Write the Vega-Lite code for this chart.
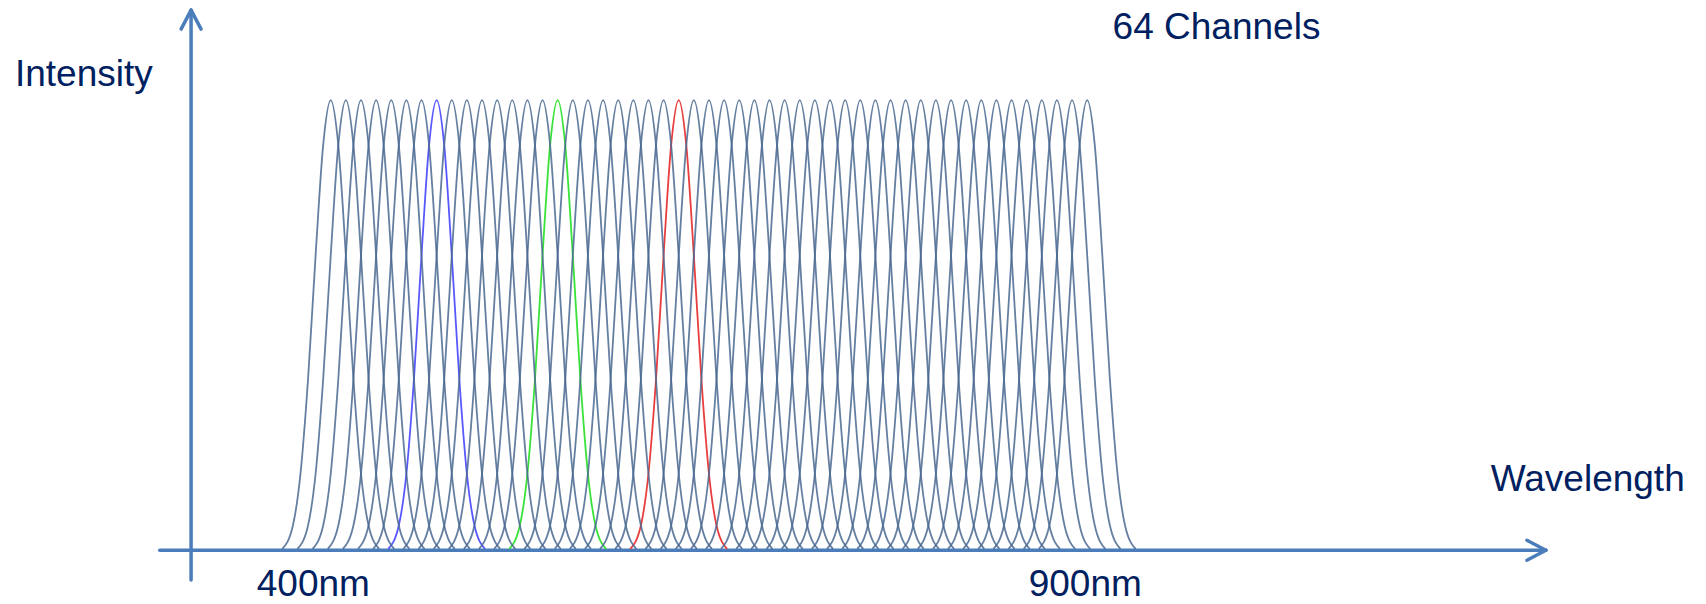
{
"$schema": "https://vega.github.io/schema/vega-lite/v6.json",
"width": 1706, "height": 604,
"autosize": {"type": "fit", "contains": "padding"},
"padding": 0,
"background": "white",
"config": {"view": {"stroke": null}},
"datasets": {
"curves": [
{"c":400,"w":368,"v":0.003},{"c":400,"w":375,"v":0.055},{"c":400,"w":380,"v":0.17},{"c":400,"w":385,"v":0.38},{"c":400,"w":390,"v":0.655},{"c":400,"w":395,"v":0.9},{"c":400,"w":400,"v":1},{"c":400,"w":405,"v":0.9},{"c":400,"w":410,"v":0.655},{"c":400,"w":415,"v":0.38},{"c":400,"w":420,"v":0.17},{"c":400,"w":425,"v":0.055},{"c":400,"w":432,"v":0.003},
{"c":410,"w":378,"v":0.003},{"c":410,"w":385,"v":0.055},{"c":410,"w":390,"v":0.17},{"c":410,"w":395,"v":0.38},{"c":410,"w":400,"v":0.655},{"c":410,"w":405,"v":0.9},{"c":410,"w":410,"v":1},{"c":410,"w":415,"v":0.9},{"c":410,"w":420,"v":0.655},{"c":410,"w":425,"v":0.38},{"c":410,"w":430,"v":0.17},{"c":410,"w":435,"v":0.055},{"c":410,"w":442,"v":0.003},
{"c":420,"w":388,"v":0.003},{"c":420,"w":395,"v":0.055},{"c":420,"w":400,"v":0.17},{"c":420,"w":405,"v":0.38},{"c":420,"w":410,"v":0.655},{"c":420,"w":415,"v":0.9},{"c":420,"w":420,"v":1},{"c":420,"w":425,"v":0.9},{"c":420,"w":430,"v":0.655},{"c":420,"w":435,"v":0.38},{"c":420,"w":440,"v":0.17},{"c":420,"w":445,"v":0.055},{"c":420,"w":452,"v":0.003},
{"c":430,"w":398,"v":0.003},{"c":430,"w":405,"v":0.055},{"c":430,"w":410,"v":0.17},{"c":430,"w":415,"v":0.38},{"c":430,"w":420,"v":0.655},{"c":430,"w":425,"v":0.9},{"c":430,"w":430,"v":1},{"c":430,"w":435,"v":0.9},{"c":430,"w":440,"v":0.655},{"c":430,"w":445,"v":0.38},{"c":430,"w":450,"v":0.17},{"c":430,"w":455,"v":0.055},{"c":430,"w":462,"v":0.003},
{"c":440,"w":408,"v":0.003},{"c":440,"w":415,"v":0.055},{"c":440,"w":420,"v":0.17},{"c":440,"w":425,"v":0.38},{"c":440,"w":430,"v":0.655},{"c":440,"w":435,"v":0.9},{"c":440,"w":440,"v":1},{"c":440,"w":445,"v":0.9},{"c":440,"w":450,"v":0.655},{"c":440,"w":455,"v":0.38},{"c":440,"w":460,"v":0.17},{"c":440,"w":465,"v":0.055},{"c":440,"w":472,"v":0.003},
{"c":450,"w":418,"v":0.003},{"c":450,"w":425,"v":0.055},{"c":450,"w":430,"v":0.17},{"c":450,"w":435,"v":0.38},{"c":450,"w":440,"v":0.655},{"c":450,"w":445,"v":0.9},{"c":450,"w":450,"v":1},{"c":450,"w":455,"v":0.9},{"c":450,"w":460,"v":0.655},{"c":450,"w":465,"v":0.38},{"c":450,"w":470,"v":0.17},{"c":450,"w":475,"v":0.055},{"c":450,"w":482,"v":0.003},
{"c":460,"w":428,"v":0.003},{"c":460,"w":435,"v":0.055},{"c":460,"w":440,"v":0.17},{"c":460,"w":445,"v":0.38},{"c":460,"w":450,"v":0.655},{"c":460,"w":455,"v":0.9},{"c":460,"w":460,"v":1},{"c":460,"w":465,"v":0.9},{"c":460,"w":470,"v":0.655},{"c":460,"w":475,"v":0.38},{"c":460,"w":480,"v":0.17},{"c":460,"w":485,"v":0.055},{"c":460,"w":492,"v":0.003},
{"c":470,"w":438,"v":0.003},{"c":470,"w":445,"v":0.055},{"c":470,"w":450,"v":0.17},{"c":470,"w":455,"v":0.38},{"c":470,"w":460,"v":0.655},{"c":470,"w":465,"v":0.9},{"c":470,"w":470,"v":1},{"c":470,"w":475,"v":0.9},{"c":470,"w":480,"v":0.655},{"c":470,"w":485,"v":0.38},{"c":470,"w":490,"v":0.17},{"c":470,"w":495,"v":0.055},{"c":470,"w":502,"v":0.003},
{"c":480,"w":448,"v":0.003},{"c":480,"w":455,"v":0.055},{"c":480,"w":460,"v":0.17},{"c":480,"w":465,"v":0.38},{"c":480,"w":470,"v":0.655},{"c":480,"w":475,"v":0.9},{"c":480,"w":480,"v":1},{"c":480,"w":485,"v":0.9},{"c":480,"w":490,"v":0.655},{"c":480,"w":495,"v":0.38},{"c":480,"w":500,"v":0.17},{"c":480,"w":505,"v":0.055},{"c":480,"w":512,"v":0.003},
{"c":490,"w":458,"v":0.003},{"c":490,"w":465,"v":0.055},{"c":490,"w":470,"v":0.17},{"c":490,"w":475,"v":0.38},{"c":490,"w":480,"v":0.655},{"c":490,"w":485,"v":0.9},{"c":490,"w":490,"v":1},{"c":490,"w":495,"v":0.9},{"c":490,"w":500,"v":0.655},{"c":490,"w":505,"v":0.38},{"c":490,"w":510,"v":0.17},{"c":490,"w":515,"v":0.055},{"c":490,"w":522,"v":0.003},
{"c":500,"w":468,"v":0.003},{"c":500,"w":475,"v":0.055},{"c":500,"w":480,"v":0.17},{"c":500,"w":485,"v":0.38},{"c":500,"w":490,"v":0.655},{"c":500,"w":495,"v":0.9},{"c":500,"w":500,"v":1},{"c":500,"w":505,"v":0.9},{"c":500,"w":510,"v":0.655},{"c":500,"w":515,"v":0.38},{"c":500,"w":520,"v":0.17},{"c":500,"w":525,"v":0.055},{"c":500,"w":532,"v":0.003},
{"c":510,"w":478,"v":0.003},{"c":510,"w":485,"v":0.055},{"c":510,"w":490,"v":0.17},{"c":510,"w":495,"v":0.38},{"c":510,"w":500,"v":0.655},{"c":510,"w":505,"v":0.9},{"c":510,"w":510,"v":1},{"c":510,"w":515,"v":0.9},{"c":510,"w":520,"v":0.655},{"c":510,"w":525,"v":0.38},{"c":510,"w":530,"v":0.17},{"c":510,"w":535,"v":0.055},{"c":510,"w":542,"v":0.003},
{"c":520,"w":488,"v":0.003},{"c":520,"w":495,"v":0.055},{"c":520,"w":500,"v":0.17},{"c":520,"w":505,"v":0.38},{"c":520,"w":510,"v":0.655},{"c":520,"w":515,"v":0.9},{"c":520,"w":520,"v":1},{"c":520,"w":525,"v":0.9},{"c":520,"w":530,"v":0.655},{"c":520,"w":535,"v":0.38},{"c":520,"w":540,"v":0.17},{"c":520,"w":545,"v":0.055},{"c":520,"w":552,"v":0.003},
{"c":530,"w":498,"v":0.003},{"c":530,"w":505,"v":0.055},{"c":530,"w":510,"v":0.17},{"c":530,"w":515,"v":0.38},{"c":530,"w":520,"v":0.655},{"c":530,"w":525,"v":0.9},{"c":530,"w":530,"v":1},{"c":530,"w":535,"v":0.9},{"c":530,"w":540,"v":0.655},{"c":530,"w":545,"v":0.38},{"c":530,"w":550,"v":0.17},{"c":530,"w":555,"v":0.055},{"c":530,"w":562,"v":0.003},
{"c":540,"w":508,"v":0.003},{"c":540,"w":515,"v":0.055},{"c":540,"w":520,"v":0.17},{"c":540,"w":525,"v":0.38},{"c":540,"w":530,"v":0.655},{"c":540,"w":535,"v":0.9},{"c":540,"w":540,"v":1},{"c":540,"w":545,"v":0.9},{"c":540,"w":550,"v":0.655},{"c":540,"w":555,"v":0.38},{"c":540,"w":560,"v":0.17},{"c":540,"w":565,"v":0.055},{"c":540,"w":572,"v":0.003},
{"c":550,"w":518,"v":0.003},{"c":550,"w":525,"v":0.055},{"c":550,"w":530,"v":0.17},{"c":550,"w":535,"v":0.38},{"c":550,"w":540,"v":0.655},{"c":550,"w":545,"v":0.9},{"c":550,"w":550,"v":1},{"c":550,"w":555,"v":0.9},{"c":550,"w":560,"v":0.655},{"c":550,"w":565,"v":0.38},{"c":550,"w":570,"v":0.17},{"c":550,"w":575,"v":0.055},{"c":550,"w":582,"v":0.003},
{"c":560,"w":528,"v":0.003},{"c":560,"w":535,"v":0.055},{"c":560,"w":540,"v":0.17},{"c":560,"w":545,"v":0.38},{"c":560,"w":550,"v":0.655},{"c":560,"w":555,"v":0.9},{"c":560,"w":560,"v":1},{"c":560,"w":565,"v":0.9},{"c":560,"w":570,"v":0.655},{"c":560,"w":575,"v":0.38},{"c":560,"w":580,"v":0.17},{"c":560,"w":585,"v":0.055},{"c":560,"w":592,"v":0.003},
{"c":570,"w":538,"v":0.003},{"c":570,"w":545,"v":0.055},{"c":570,"w":550,"v":0.17},{"c":570,"w":555,"v":0.38},{"c":570,"w":560,"v":0.655},{"c":570,"w":565,"v":0.9},{"c":570,"w":570,"v":1},{"c":570,"w":575,"v":0.9},{"c":570,"w":580,"v":0.655},{"c":570,"w":585,"v":0.38},{"c":570,"w":590,"v":0.17},{"c":570,"w":595,"v":0.055},{"c":570,"w":602,"v":0.003},
{"c":580,"w":548,"v":0.003},{"c":580,"w":555,"v":0.055},{"c":580,"w":560,"v":0.17},{"c":580,"w":565,"v":0.38},{"c":580,"w":570,"v":0.655},{"c":580,"w":575,"v":0.9},{"c":580,"w":580,"v":1},{"c":580,"w":585,"v":0.9},{"c":580,"w":590,"v":0.655},{"c":580,"w":595,"v":0.38},{"c":580,"w":600,"v":0.17},{"c":580,"w":605,"v":0.055},{"c":580,"w":612,"v":0.003},
{"c":590,"w":558,"v":0.003},{"c":590,"w":565,"v":0.055},{"c":590,"w":570,"v":0.17},{"c":590,"w":575,"v":0.38},{"c":590,"w":580,"v":0.655},{"c":590,"w":585,"v":0.9},{"c":590,"w":590,"v":1},{"c":590,"w":595,"v":0.9},{"c":590,"w":600,"v":0.655},{"c":590,"w":605,"v":0.38},{"c":590,"w":610,"v":0.17},{"c":590,"w":615,"v":0.055},{"c":590,"w":622,"v":0.003},
{"c":600,"w":568,"v":0.003},{"c":600,"w":575,"v":0.055},{"c":600,"w":580,"v":0.17},{"c":600,"w":585,"v":0.38},{"c":600,"w":590,"v":0.655},{"c":600,"w":595,"v":0.9},{"c":600,"w":600,"v":1},{"c":600,"w":605,"v":0.9},{"c":600,"w":610,"v":0.655},{"c":600,"w":615,"v":0.38},{"c":600,"w":620,"v":0.17},{"c":600,"w":625,"v":0.055},{"c":600,"w":632,"v":0.003},
{"c":610,"w":578,"v":0.003},{"c":610,"w":585,"v":0.055},{"c":610,"w":590,"v":0.17},{"c":610,"w":595,"v":0.38},{"c":610,"w":600,"v":0.655},{"c":610,"w":605,"v":0.9},{"c":610,"w":610,"v":1},{"c":610,"w":615,"v":0.9},{"c":610,"w":620,"v":0.655},{"c":610,"w":625,"v":0.38},{"c":610,"w":630,"v":0.17},{"c":610,"w":635,"v":0.055},{"c":610,"w":642,"v":0.003},
{"c":620,"w":588,"v":0.003},{"c":620,"w":595,"v":0.055},{"c":620,"w":600,"v":0.17},{"c":620,"w":605,"v":0.38},{"c":620,"w":610,"v":0.655},{"c":620,"w":615,"v":0.9},{"c":620,"w":620,"v":1},{"c":620,"w":625,"v":0.9},{"c":620,"w":630,"v":0.655},{"c":620,"w":635,"v":0.38},{"c":620,"w":640,"v":0.17},{"c":620,"w":645,"v":0.055},{"c":620,"w":652,"v":0.003},
{"c":630,"w":598,"v":0.003},{"c":630,"w":605,"v":0.055},{"c":630,"w":610,"v":0.17},{"c":630,"w":615,"v":0.38},{"c":630,"w":620,"v":0.655},{"c":630,"w":625,"v":0.9},{"c":630,"w":630,"v":1},{"c":630,"w":635,"v":0.9},{"c":630,"w":640,"v":0.655},{"c":630,"w":645,"v":0.38},{"c":630,"w":650,"v":0.17},{"c":630,"w":655,"v":0.055},{"c":630,"w":662,"v":0.003},
{"c":640,"w":608,"v":0.003},{"c":640,"w":615,"v":0.055},{"c":640,"w":620,"v":0.17},{"c":640,"w":625,"v":0.38},{"c":640,"w":630,"v":0.655},{"c":640,"w":635,"v":0.9},{"c":640,"w":640,"v":1},{"c":640,"w":645,"v":0.9},{"c":640,"w":650,"v":0.655},{"c":640,"w":655,"v":0.38},{"c":640,"w":660,"v":0.17},{"c":640,"w":665,"v":0.055},{"c":640,"w":672,"v":0.003},
{"c":650,"w":618,"v":0.003},{"c":650,"w":625,"v":0.055},{"c":650,"w":630,"v":0.17},{"c":650,"w":635,"v":0.38},{"c":650,"w":640,"v":0.655},{"c":650,"w":645,"v":0.9},{"c":650,"w":650,"v":1},{"c":650,"w":655,"v":0.9},{"c":650,"w":660,"v":0.655},{"c":650,"w":665,"v":0.38},{"c":650,"w":670,"v":0.17},{"c":650,"w":675,"v":0.055},{"c":650,"w":682,"v":0.003},
{"c":660,"w":628,"v":0.003},{"c":660,"w":635,"v":0.055},{"c":660,"w":640,"v":0.17},{"c":660,"w":645,"v":0.38},{"c":660,"w":650,"v":0.655},{"c":660,"w":655,"v":0.9},{"c":660,"w":660,"v":1},{"c":660,"w":665,"v":0.9},{"c":660,"w":670,"v":0.655},{"c":660,"w":675,"v":0.38},{"c":660,"w":680,"v":0.17},{"c":660,"w":685,"v":0.055},{"c":660,"w":692,"v":0.003},
{"c":670,"w":638,"v":0.003},{"c":670,"w":645,"v":0.055},{"c":670,"w":650,"v":0.17},{"c":670,"w":655,"v":0.38},{"c":670,"w":660,"v":0.655},{"c":670,"w":665,"v":0.9},{"c":670,"w":670,"v":1},{"c":670,"w":675,"v":0.9},{"c":670,"w":680,"v":0.655},{"c":670,"w":685,"v":0.38},{"c":670,"w":690,"v":0.17},{"c":670,"w":695,"v":0.055},{"c":670,"w":702,"v":0.003},
{"c":680,"w":648,"v":0.003},{"c":680,"w":655,"v":0.055},{"c":680,"w":660,"v":0.17},{"c":680,"w":665,"v":0.38},{"c":680,"w":670,"v":0.655},{"c":680,"w":675,"v":0.9},{"c":680,"w":680,"v":1},{"c":680,"w":685,"v":0.9},{"c":680,"w":690,"v":0.655},{"c":680,"w":695,"v":0.38},{"c":680,"w":700,"v":0.17},{"c":680,"w":705,"v":0.055},{"c":680,"w":712,"v":0.003},
{"c":690,"w":658,"v":0.003},{"c":690,"w":665,"v":0.055},{"c":690,"w":670,"v":0.17},{"c":690,"w":675,"v":0.38},{"c":690,"w":680,"v":0.655},{"c":690,"w":685,"v":0.9},{"c":690,"w":690,"v":1},{"c":690,"w":695,"v":0.9},{"c":690,"w":700,"v":0.655},{"c":690,"w":705,"v":0.38},{"c":690,"w":710,"v":0.17},{"c":690,"w":715,"v":0.055},{"c":690,"w":722,"v":0.003},
{"c":700,"w":668,"v":0.003},{"c":700,"w":675,"v":0.055},{"c":700,"w":680,"v":0.17},{"c":700,"w":685,"v":0.38},{"c":700,"w":690,"v":0.655},{"c":700,"w":695,"v":0.9},{"c":700,"w":700,"v":1},{"c":700,"w":705,"v":0.9},{"c":700,"w":710,"v":0.655},{"c":700,"w":715,"v":0.38},{"c":700,"w":720,"v":0.17},{"c":700,"w":725,"v":0.055},{"c":700,"w":732,"v":0.003},
{"c":710,"w":678,"v":0.003},{"c":710,"w":685,"v":0.055},{"c":710,"w":690,"v":0.17},{"c":710,"w":695,"v":0.38},{"c":710,"w":700,"v":0.655},{"c":710,"w":705,"v":0.9},{"c":710,"w":710,"v":1},{"c":710,"w":715,"v":0.9},{"c":710,"w":720,"v":0.655},{"c":710,"w":725,"v":0.38},{"c":710,"w":730,"v":0.17},{"c":710,"w":735,"v":0.055},{"c":710,"w":742,"v":0.003},
{"c":720,"w":688,"v":0.003},{"c":720,"w":695,"v":0.055},{"c":720,"w":700,"v":0.17},{"c":720,"w":705,"v":0.38},{"c":720,"w":710,"v":0.655},{"c":720,"w":715,"v":0.9},{"c":720,"w":720,"v":1},{"c":720,"w":725,"v":0.9},{"c":720,"w":730,"v":0.655},{"c":720,"w":735,"v":0.38},{"c":720,"w":740,"v":0.17},{"c":720,"w":745,"v":0.055},{"c":720,"w":752,"v":0.003},
{"c":730,"w":698,"v":0.003},{"c":730,"w":705,"v":0.055},{"c":730,"w":710,"v":0.17},{"c":730,"w":715,"v":0.38},{"c":730,"w":720,"v":0.655},{"c":730,"w":725,"v":0.9},{"c":730,"w":730,"v":1},{"c":730,"w":735,"v":0.9},{"c":730,"w":740,"v":0.655},{"c":730,"w":745,"v":0.38},{"c":730,"w":750,"v":0.17},{"c":730,"w":755,"v":0.055},{"c":730,"w":762,"v":0.003},
{"c":740,"w":708,"v":0.003},{"c":740,"w":715,"v":0.055},{"c":740,"w":720,"v":0.17},{"c":740,"w":725,"v":0.38},{"c":740,"w":730,"v":0.655},{"c":740,"w":735,"v":0.9},{"c":740,"w":740,"v":1},{"c":740,"w":745,"v":0.9},{"c":740,"w":750,"v":0.655},{"c":740,"w":755,"v":0.38},{"c":740,"w":760,"v":0.17},{"c":740,"w":765,"v":0.055},{"c":740,"w":772,"v":0.003},
{"c":750,"w":718,"v":0.003},{"c":750,"w":725,"v":0.055},{"c":750,"w":730,"v":0.17},{"c":750,"w":735,"v":0.38},{"c":750,"w":740,"v":0.655},{"c":750,"w":745,"v":0.9},{"c":750,"w":750,"v":1},{"c":750,"w":755,"v":0.9},{"c":750,"w":760,"v":0.655},{"c":750,"w":765,"v":0.38},{"c":750,"w":770,"v":0.17},{"c":750,"w":775,"v":0.055},{"c":750,"w":782,"v":0.003},
{"c":760,"w":728,"v":0.003},{"c":760,"w":735,"v":0.055},{"c":760,"w":740,"v":0.17},{"c":760,"w":745,"v":0.38},{"c":760,"w":750,"v":0.655},{"c":760,"w":755,"v":0.9},{"c":760,"w":760,"v":1},{"c":760,"w":765,"v":0.9},{"c":760,"w":770,"v":0.655},{"c":760,"w":775,"v":0.38},{"c":760,"w":780,"v":0.17},{"c":760,"w":785,"v":0.055},{"c":760,"w":792,"v":0.003},
{"c":770,"w":738,"v":0.003},{"c":770,"w":745,"v":0.055},{"c":770,"w":750,"v":0.17},{"c":770,"w":755,"v":0.38},{"c":770,"w":760,"v":0.655},{"c":770,"w":765,"v":0.9},{"c":770,"w":770,"v":1},{"c":770,"w":775,"v":0.9},{"c":770,"w":780,"v":0.655},{"c":770,"w":785,"v":0.38},{"c":770,"w":790,"v":0.17},{"c":770,"w":795,"v":0.055},{"c":770,"w":802,"v":0.003},
{"c":780,"w":748,"v":0.003},{"c":780,"w":755,"v":0.055},{"c":780,"w":760,"v":0.17},{"c":780,"w":765,"v":0.38},{"c":780,"w":770,"v":0.655},{"c":780,"w":775,"v":0.9},{"c":780,"w":780,"v":1},{"c":780,"w":785,"v":0.9},{"c":780,"w":790,"v":0.655},{"c":780,"w":795,"v":0.38},{"c":780,"w":800,"v":0.17},{"c":780,"w":805,"v":0.055},{"c":780,"w":812,"v":0.003},
{"c":790,"w":758,"v":0.003},{"c":790,"w":765,"v":0.055},{"c":790,"w":770,"v":0.17},{"c":790,"w":775,"v":0.38},{"c":790,"w":780,"v":0.655},{"c":790,"w":785,"v":0.9},{"c":790,"w":790,"v":1},{"c":790,"w":795,"v":0.9},{"c":790,"w":800,"v":0.655},{"c":790,"w":805,"v":0.38},{"c":790,"w":810,"v":0.17},{"c":790,"w":815,"v":0.055},{"c":790,"w":822,"v":0.003},
{"c":800,"w":768,"v":0.003},{"c":800,"w":775,"v":0.055},{"c":800,"w":780,"v":0.17},{"c":800,"w":785,"v":0.38},{"c":800,"w":790,"v":0.655},{"c":800,"w":795,"v":0.9},{"c":800,"w":800,"v":1},{"c":800,"w":805,"v":0.9},{"c":800,"w":810,"v":0.655},{"c":800,"w":815,"v":0.38},{"c":800,"w":820,"v":0.17},{"c":800,"w":825,"v":0.055},{"c":800,"w":832,"v":0.003},
{"c":810,"w":778,"v":0.003},{"c":810,"w":785,"v":0.055},{"c":810,"w":790,"v":0.17},{"c":810,"w":795,"v":0.38},{"c":810,"w":800,"v":0.655},{"c":810,"w":805,"v":0.9},{"c":810,"w":810,"v":1},{"c":810,"w":815,"v":0.9},{"c":810,"w":820,"v":0.655},{"c":810,"w":825,"v":0.38},{"c":810,"w":830,"v":0.17},{"c":810,"w":835,"v":0.055},{"c":810,"w":842,"v":0.003},
{"c":820,"w":788,"v":0.003},{"c":820,"w":795,"v":0.055},{"c":820,"w":800,"v":0.17},{"c":820,"w":805,"v":0.38},{"c":820,"w":810,"v":0.655},{"c":820,"w":815,"v":0.9},{"c":820,"w":820,"v":1},{"c":820,"w":825,"v":0.9},{"c":820,"w":830,"v":0.655},{"c":820,"w":835,"v":0.38},{"c":820,"w":840,"v":0.17},{"c":820,"w":845,"v":0.055},{"c":820,"w":852,"v":0.003},
{"c":830,"w":798,"v":0.003},{"c":830,"w":805,"v":0.055},{"c":830,"w":810,"v":0.17},{"c":830,"w":815,"v":0.38},{"c":830,"w":820,"v":0.655},{"c":830,"w":825,"v":0.9},{"c":830,"w":830,"v":1},{"c":830,"w":835,"v":0.9},{"c":830,"w":840,"v":0.655},{"c":830,"w":845,"v":0.38},{"c":830,"w":850,"v":0.17},{"c":830,"w":855,"v":0.055},{"c":830,"w":862,"v":0.003},
{"c":840,"w":808,"v":0.003},{"c":840,"w":815,"v":0.055},{"c":840,"w":820,"v":0.17},{"c":840,"w":825,"v":0.38},{"c":840,"w":830,"v":0.655},{"c":840,"w":835,"v":0.9},{"c":840,"w":840,"v":1},{"c":840,"w":845,"v":0.9},{"c":840,"w":850,"v":0.655},{"c":840,"w":855,"v":0.38},{"c":840,"w":860,"v":0.17},{"c":840,"w":865,"v":0.055},{"c":840,"w":872,"v":0.003},
{"c":850,"w":818,"v":0.003},{"c":850,"w":825,"v":0.055},{"c":850,"w":830,"v":0.17},{"c":850,"w":835,"v":0.38},{"c":850,"w":840,"v":0.655},{"c":850,"w":845,"v":0.9},{"c":850,"w":850,"v":1},{"c":850,"w":855,"v":0.9},{"c":850,"w":860,"v":0.655},{"c":850,"w":865,"v":0.38},{"c":850,"w":870,"v":0.17},{"c":850,"w":875,"v":0.055},{"c":850,"w":882,"v":0.003},
{"c":860,"w":828,"v":0.003},{"c":860,"w":835,"v":0.055},{"c":860,"w":840,"v":0.17},{"c":860,"w":845,"v":0.38},{"c":860,"w":850,"v":0.655},{"c":860,"w":855,"v":0.9},{"c":860,"w":860,"v":1},{"c":860,"w":865,"v":0.9},{"c":860,"w":870,"v":0.655},{"c":860,"w":875,"v":0.38},{"c":860,"w":880,"v":0.17},{"c":860,"w":885,"v":0.055},{"c":860,"w":892,"v":0.003},
{"c":870,"w":838,"v":0.003},{"c":870,"w":845,"v":0.055},{"c":870,"w":850,"v":0.17},{"c":870,"w":855,"v":0.38},{"c":870,"w":860,"v":0.655},{"c":870,"w":865,"v":0.9},{"c":870,"w":870,"v":1},{"c":870,"w":875,"v":0.9},{"c":870,"w":880,"v":0.655},{"c":870,"w":885,"v":0.38},{"c":870,"w":890,"v":0.17},{"c":870,"w":895,"v":0.055},{"c":870,"w":902,"v":0.003},
{"c":880,"w":848,"v":0.003},{"c":880,"w":855,"v":0.055},{"c":880,"w":860,"v":0.17},{"c":880,"w":865,"v":0.38},{"c":880,"w":870,"v":0.655},{"c":880,"w":875,"v":0.9},{"c":880,"w":880,"v":1},{"c":880,"w":885,"v":0.9},{"c":880,"w":890,"v":0.655},{"c":880,"w":895,"v":0.38},{"c":880,"w":900,"v":0.17},{"c":880,"w":905,"v":0.055},{"c":880,"w":912,"v":0.003},
{"c":890,"w":858,"v":0.003},{"c":890,"w":865,"v":0.055},{"c":890,"w":870,"v":0.17},{"c":890,"w":875,"v":0.38},{"c":890,"w":880,"v":0.655},{"c":890,"w":885,"v":0.9},{"c":890,"w":890,"v":1},{"c":890,"w":895,"v":0.9},{"c":890,"w":900,"v":0.655},{"c":890,"w":905,"v":0.38},{"c":890,"w":910,"v":0.17},{"c":890,"w":915,"v":0.055},{"c":890,"w":922,"v":0.003},
{"c":900,"w":868,"v":0.003},{"c":900,"w":875,"v":0.055},{"c":900,"w":880,"v":0.17},{"c":900,"w":885,"v":0.38},{"c":900,"w":890,"v":0.655},{"c":900,"w":895,"v":0.9},{"c":900,"w":900,"v":1},{"c":900,"w":905,"v":0.9},{"c":900,"w":910,"v":0.655},{"c":900,"w":915,"v":0.38},{"c":900,"w":920,"v":0.17},{"c":900,"w":925,"v":0.055},{"c":900,"w":932,"v":0.003}
],
"axes": [
{"x":307.7,"y":-0.066,"x2":307.7,"y2":1.2},
{"x":287,"y":0,"x2":1203.2,"y2":0},
{"x":307.7,"y":1.2,"x2":301.1,"y2":1.158},
{"x":307.7,"y":1.2,"x2":314.3,"y2":1.158},
{"x":1203.2,"y":0,"x2":1190.6,"y2":0.0221},
{"x":1203.2,"y":0,"x2":1190.6,"y2":-0.0221}
],
"labels": [
{"t":"Intensity","x":191.3,"y":1.0325},
{"t":"64 Channels","x":916.8,"y":1.1357},
{"t":"Wavelength","x":1166.7,"y":0.132},
{"t":"400nm","x":351.1,"y":-0.1028},
{"t":"900nm","x":861.3,"y":-0.1028}
]
},
"layer": [
{
"data": {"name": "axes"},
"mark": {"type": "rule", "color": "#4A7DBA", "strokeWidth": 3.5, "strokeCap": "round"},
"encoding": {
"x": {"field": "x", "type": "quantitative", "scale": {"domain": [181.4, 1309.0], "nice": false, "zero": false}, "axis": null},
"y": {"field": "y", "type": "quantitative", "scale": {"domain": [-0.1128, 1.2226], "nice": false, "zero": false}, "axis": null},
"x2": {"field": "x2"},
"y2": {"field": "y2"}
}
},
{
"data": {"name": "curves"},
"transform": [{"filter": "datum.c === 470 || datum.c === 550 || datum.c === 630"}],
"mark": {"type": "line", "interpolate": "monotone", "strokeWidth": 1.8, "opacity": 0.95},
"encoding": {
"x": {"field": "w", "type": "quantitative", "scale": {"domain": [181.4, 1309.0], "nice": false, "zero": false}, "axis": null},
"y": {"field": "v", "type": "quantitative", "scale": {"domain": [-0.1128, 1.2226], "nice": false, "zero": false}, "axis": null},
"color": {"field": "c", "type": "nominal", "scale": {"domain": [470, 550, 630], "range": ["#4F4FFF", "#2EE02E", "#E83434"]}, "legend": null}
}
},
{
"data": {"name": "curves"},
"transform": [{"filter": "datum.c !== 470 && datum.c !== 550 && datum.c !== 630"}],
"mark": {"type": "line", "interpolate": "monotone", "color": "#4A6890", "strokeWidth": 1.8, "opacity": 0.85},
"encoding": {
"x": {"field": "w", "type": "quantitative", "scale": {"domain": [181.4, 1309.0], "nice": false, "zero": false}, "axis": null},
"y": {"field": "v", "type": "quantitative", "scale": {"domain": [-0.1128, 1.2226], "nice": false, "zero": false}, "axis": null},
"detail": {"field": "c", "type": "nominal"}
}
},
{
"data": {"name": "labels"},
"mark": {"type": "text", "align": "left", "baseline": "alphabetic", "font": "Liberation Sans", "fontSize": 37, "color": "#002060"},
"encoding": {
"x": {"field": "x", "type": "quantitative", "scale": {"domain": [181.4, 1309.0], "nice": false, "zero": false}, "axis": null},
"y": {"field": "y", "type": "quantitative", "scale": {"domain": [-0.1128, 1.2226], "nice": false, "zero": false}, "axis": null},
"text": {"field": "t"}
}
}
]
}
